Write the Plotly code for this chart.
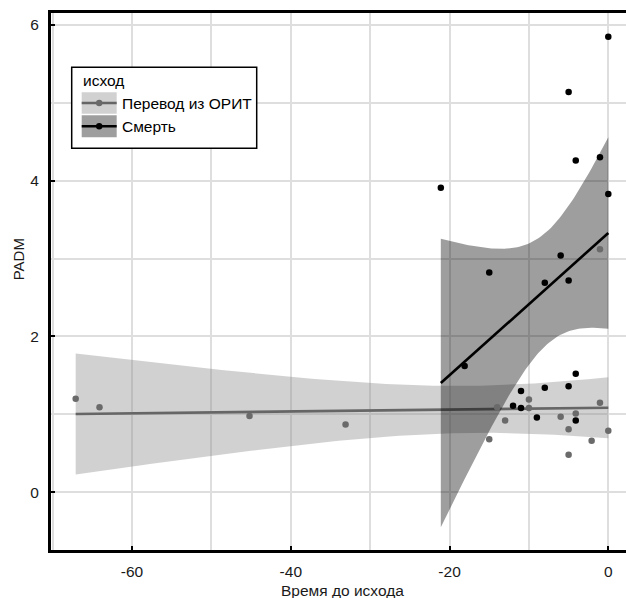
import math
import numpy as np
import plotly.graph_objects as go

# ---------------- data ----------------
# group "Перевод из ОРИТ" (grey)
transfer_x = [-67.1, -64.1, -45.2, -33.1, -15.0, -14.0, -13.0, -10.0, -10.0,
              -6.0, -5.0, -5.0, -4.1, -2.1, -1.05, -1.05, 0.0]
transfer_y = [1.20, 1.09, 0.98, 0.87, 0.68, 1.09, 0.92, 1.19, 1.08,
              0.97, 0.81, 0.48, 1.01, 0.66, 1.15, 3.12, 0.79]
# group "Смерть" (black)
death_x = [-21.1, -18.1, -15.0, -12.0, -11.0, -11.0, -9.0, -8.0, -8.0, -6.0,
           -5.0, -5.0, -5.0, -4.1, -4.1, -4.1, -1.05, 0.0, 0.0]
death_y = [3.91, 1.62, 2.82, 1.11, 1.30, 1.08, 0.96, 1.34, 2.69, 3.04,
           1.36, 2.72, 5.14, 1.52, 0.92, 4.26, 4.30, 3.83, 5.85]

group_names = ["Перевод из ОРИТ", "Смерть"]
legend_title = "исход"
x_title = "Время до исхода"
y_title = "PADM"
x_ticks = [-60, -40, -20, 0]
y_ticks = [0, 2, 4, 6]

# ---------------- styles ----------------
W, H = 626, 598
ML, MR, MT, MB = 51, 0, 13, 48
XR = [-70.21, 2.23]
YR = [-0.742, 6.154]

point_col = ["#6a6a6a", "#000000"]
line_col = ["#666666", "#000000"]
ribbon_col = ["rgba(140,140,140,0.4)", "rgba(0,0,0,0.38)"]
FONT = "Liberation Sans, Arial, sans-serif"
FS = 15.5


def t_cdf(t, df):
    xs = np.linspace(0, t, 4001)
    c = math.gamma((df + 1) / 2) / (math.sqrt(df * math.pi) * math.gamma(df / 2))
    pdf = c * (1 + xs ** 2 / df) ** (-(df + 1) / 2)
    return 0.5 + np.trapezoid(pdf, xs)


def t_ppf(p, df):
    lo, hi = 0.0, 20.0
    for _ in range(60):
        mid = (lo + hi) / 2
        if t_cdf(mid, df) < p:
            lo = mid
        else:
            hi = mid
    return (lo + hi) / 2


def lm_ci(x, y, n_pts=80, level=0.95):
    x = np.asarray(x, float)
    y = np.asarray(y, float)
    n = len(x)
    xm = x.mean()
    sxx = ((x - xm) ** 2).sum()
    b = ((x - xm) * (y - y.mean())).sum() / sxx
    a = y.mean() - b * xm
    res = y - (a + b * x)
    s = math.sqrt((res ** 2).sum() / (n - 2))
    tq = t_ppf(0.5 + level / 2, n - 2)
    xs = np.linspace(x.min(), x.max(), n_pts)
    fit = a + b * xs
    se = s * np.sqrt(1 / n + (xs - xm) ** 2 / sxx)
    return xs, fit, fit - tq * se, fit + tq * se


fig = go.Figure()
groups = [(transfer_x, transfer_y), (death_x, death_y)]
for i, (gx, gy) in enumerate(groups):
    xs, fit, lo, hi = lm_ci(gx, gy)
    fig.add_trace(go.Scatter(
        x=np.concatenate([xs, xs[::-1]]), y=np.concatenate([hi, lo[::-1]]),
        fill="toself", fillcolor=ribbon_col[i], line=dict(width=0),
        mode="lines", showlegend=False, hoverinfo="skip"))
    fig.add_trace(go.Scatter(x=xs, y=fit, mode="lines",
                             line=dict(color=line_col[i], width=2.6),
                             showlegend=False))
for i, (gx, gy) in enumerate(groups):
    fig.add_trace(go.Scatter(x=gx, y=gy, mode="markers", name=group_names[i],
                             marker=dict(color=point_col[i], size=6.5, line=dict(width=0)),
                             showlegend=False))

PW = W - ML - MR
PH = H - MT - MB


def px_x(px):
    return (px - ML) / PW


def px_y(py):
    return (H - MB - py) / PH


shapes = []
annotations = []
# legend box
shapes.append(dict(type="rect", xref="paper", yref="paper", layer="above",
                   x0=px_x(71.7), x1=px_x(256.7), y0=px_y(148.3), y1=px_y(67.3),
                   fillcolor="white", line=dict(color="black", width=1.5)))
annotations.append(dict(xref="paper", yref="paper", x=px_x(80.5), y=px_y(81.0),
                        xanchor="left", yanchor="middle", showarrow=False,
                        text=legend_title, font=dict(family=FONT, size=FS, color="black")))
key_rows = [(92.3, 113.8), (115.3, 137.3)]
for i, (t0, t1) in enumerate(key_rows):
    shapes.append(dict(type="rect", xref="paper", yref="paper", layer="above",
                       x0=px_x(81.7), x1=px_x(116.7), y0=px_y(t1), y1=px_y(t0),
                       fillcolor=ribbon_col[i], line=dict(width=0)))
    cy = (t0 + t1) / 2
    shapes.append(dict(type="line", xref="paper", yref="paper", layer="above",
                       x0=px_x(81.7), x1=px_x(116.7), y0=px_y(cy), y1=px_y(cy),
                       line=dict(color=line_col[i], width=2.6)))
    shapes.append(dict(type="circle", xref="paper", yref="paper", layer="above",
                       x0=px_x(99.2 - 3.2), x1=px_x(99.2 + 3.2),
                       y0=px_y(cy + 3.2), y1=px_y(cy - 3.2),
                       fillcolor=point_col[i], line=dict(width=0)))
    annotations.append(dict(xref="paper", yref="paper", x=px_x(120.0), y=px_y(cy),
                            xanchor="left", yanchor="middle", showarrow=False,
                            text=group_names[i],
                            font=dict(family=FONT, size=FS, color="black")))

# axis titles
annotations.append(dict(xref="paper", yref="paper", x=px_x(342.5), y=px_y(590.0),
                        xanchor="center", yanchor="middle", showarrow=False,
                        text=x_title, font=dict(family=FONT, size=FS, color="#1a1a1a")))
annotations.append(dict(xref="paper", yref="paper", x=px_x(18.3), y=px_y(259),
                        xanchor="center", yanchor="middle", showarrow=False, textangle=-90,
                        text=y_title, font=dict(family=FONT, size=15, color="#1a1a1a")))

grid_col = "#dedede"
fig.update_layout(
    width=W, height=H,
    margin=dict(l=ML, r=MR, t=MT, b=MB, pad=0),
    paper_bgcolor="white", plot_bgcolor="white",
    font=dict(family=FONT, size=FS, color="#1a1a1a"),
    showlegend=False,
    shapes=shapes, annotations=annotations,
    xaxis=dict(range=XR, tickvals=x_ticks, ticktext=[str(v) for v in x_ticks],
               showgrid=True, gridcolor=grid_col, gridwidth=1.5,
               minor=dict(dtick=10, tick0=0, showgrid=True, gridcolor=grid_col, gridwidth=1.5,
                          ticks=""),
               zeroline=False, showline=True, linecolor="black", linewidth=3, mirror=True,
               ticks="inside", ticklen=4, tickwidth=2, tickcolor="black",
               ticklabelstandoff=5,
               tickfont=dict(family=FONT, size=FS, color="#1a1a1a")),
    yaxis=dict(range=YR, tickvals=y_ticks, ticktext=[str(v) for v in y_ticks],
               showgrid=True, gridcolor=grid_col, gridwidth=1.5,
               minor=dict(dtick=1, tick0=0, showgrid=True, gridcolor=grid_col, gridwidth=1.5,
                          ticks=""),
               zeroline=False, showline=True, linecolor="black", linewidth=3, mirror=False,
               ticks="inside", ticklen=4, tickwidth=2, tickcolor="black",
               ticklabelstandoff=6,
               tickfont=dict(family=FONT, size=FS, color="#1a1a1a")),
)

fig.write_html("out.html",
               config={"displayModeBar": False},
               post_script="document.body.style.margin='0px';"
                           "document.body.style.overflow='hidden';")
